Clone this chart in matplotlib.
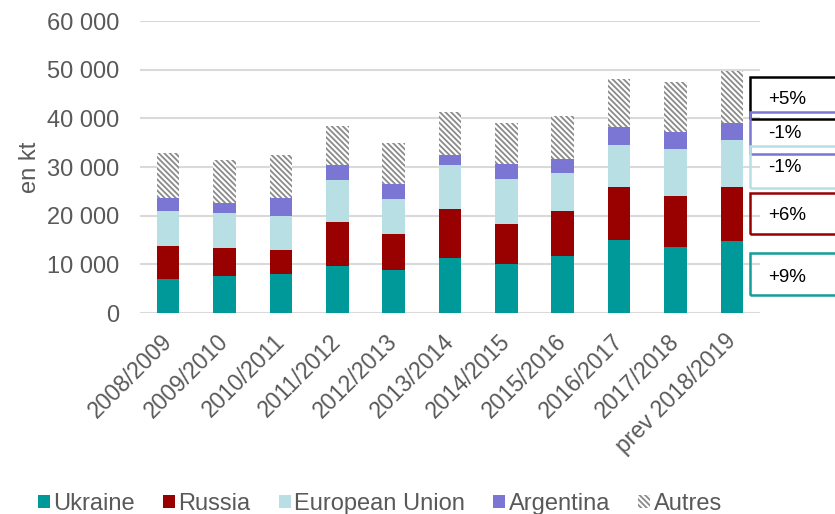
import matplotlib.pyplot as plt
import matplotlib.patches as patches
import matplotlib.transforms as mtransforms
from matplotlib.ticker import FuncFormatter

campaigns = ['2008/2009', '2009/2010', '2010/2011', '2011/2012', '2012/2013',
             '2013/2014', '2014/2015', '2015/2016', '2016/2017', '2017/2018',
             'prev 2018/2019']
ukraine = [6900, 7600, 8050, 9700, 8900, 11400, 10100, 11700, 15000, 13550, 14900]
russia = [6850, 5800, 4950, 8950, 7400, 9900, 8250, 9200, 11000, 10400, 11050]
eu = [7250, 7100, 6950, 8600, 7150, 9100, 9100, 7800, 8600, 9700, 9550]
argentina = [2550, 2200, 3650, 3200, 3100, 2000, 3100, 3000, 3600, 3600, 3550]
autres = [9350, 8800, 8950, 8050, 8400, 9000, 8600, 8700, 9800, 10200, 10600]

changes = ['+5%', '-1%', '-1%', '+6%', '+9%']
change_colors = ['#000000', '#7B75D4', '#B8DFE3', '#990000', '#139E9A']

c_ukr = '#009999'
c_rus = '#990000'
c_eu = '#B8DFE3'
c_arg = '#7B75D4'
grey = '#595959'

plt.rcParams['font.family'] = ['Liberation Sans', 'DejaVu Sans']
plt.rcParams['hatch.linewidth'] = 1.3

fig = plt.figure(figsize=(8.35, 5.14), dpi=100)
ax = fig.add_axes([0.1677, 0.391, 0.7425, 0.568])

x = list(range(len(campaigns)))
w = 0.4
bottom = [0] * len(x)
ax.bar(x, ukraine, w, color=c_ukr, label='Ukraine', zorder=3)
bottom = [b + v for b, v in zip(bottom, ukraine)]
ax.bar(x, russia, w, bottom=bottom, color=c_rus, label='Russia', zorder=3)
bottom = [b + v for b, v in zip(bottom, russia)]
ax.bar(x, eu, w, bottom=bottom, color=c_eu, label='European Union', zorder=3)
bottom = [b + v for b, v in zip(bottom, eu)]
ax.bar(x, argentina, w, bottom=bottom, color=c_arg, label='Argentina', zorder=3)
bottom = [b + v for b, v in zip(bottom, argentina)]
ax.bar(x, autres, w, bottom=bottom, color='white', edgecolor='#8a8a8a',
       hatch='\\' * 6, linewidth=0, label='Autres', zorder=3)

ax.set_xlim(-0.5, 10.5)
ax.set_ylim(0, 60000)
ax.set_yticks(range(0, 60001, 10000))
ax.yaxis.set_major_formatter(FuncFormatter(lambda v, p: f'{int(v):,}'.replace(',', ' ')))
ax.grid(axis='y', color='#D9D9D9', linewidth=1.5, zorder=0)
for s in ax.spines.values():
    s.set_visible(False)
ax.tick_params(length=0, labelcolor=grey)
ax.tick_params(axis='y', pad=15, labelsize=17)
ax.tick_params(axis='x', pad=12, labelsize=16.5)
ax.set_xticks(x)
ax.set_xticklabels(campaigns, rotation=45, ha='right', rotation_mode='anchor')
shift = mtransforms.ScaledTranslation(-8 / 100, 0, fig.dpi_scale_trans)
for lbl in ax.get_xticklabels():
    lbl.set_transform(lbl.get_transform() + shift)
ax.set_ylabel('en kt', fontsize=17, color=grey, labelpad=4)

# boxes with the variation on the right
box_y = [(77, 119), (112, 154), (146, 188), (193, 234), (253, 295)]
text_y = [99, 134, 168, 215, 277]
for lab, col, (t, b), ty in zip(changes, change_colors, box_y, text_y):
    r = patches.Rectangle((750 / 835, 1 - b / 514), 0.2, (b - t) / 514,
                          transform=fig.transFigure, fill=False,
                          edgecolor=col, linewidth=1.8)
    fig.patches.append(r)
    fig.text(768 / 835, 1 - ty / 514, lab, fontsize=13.5, color='black', va='center')

leg = fig.legend(loc='center', bbox_to_anchor=(0.455, 0.02), ncol=5, frameon=False,
                 fontsize=17, handlelength=0.5, handleheight=0.5, handletextpad=0.15,
                 columnspacing=1.2, labelcolor=grey)

fig.savefig('out.png', dpi=100)
